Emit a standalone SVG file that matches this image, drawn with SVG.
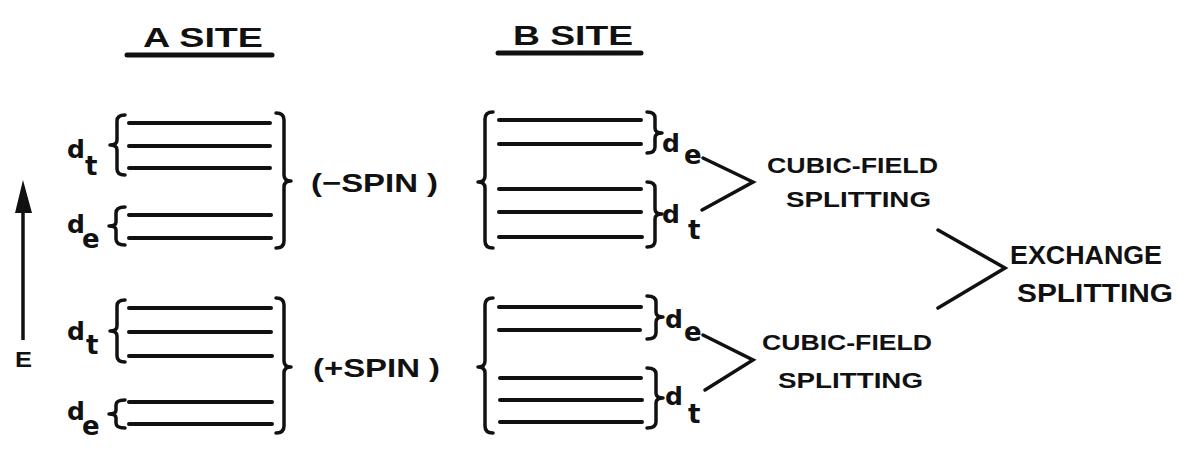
<svg xmlns="http://www.w3.org/2000/svg" width="1188" height="454" viewBox="0 0 1188 454">
  <style>
    .lvl { stroke: #111; stroke-width: 4; stroke-linecap: round; fill: none; }
    .br { stroke: #111; stroke-width: 3.5; stroke-linecap: round; stroke-linejoin: round; fill: none; }
    .ln { stroke: #111; stroke-width: 3.5; stroke-linecap: round; stroke-linejoin: miter; fill: none; }
    .t { font-family: "Liberation Sans", "DejaVu Sans", sans-serif; font-weight: bold; fill: #111; }
    .sym { font-family: "DejaVu Sans", "Liberation Sans", sans-serif; font-weight: bold; fill: #111; font-size: 25px; }
    .sub { font-size: 26px; }
  </style>
  <rect width="1188" height="454" fill="#ffffff"/>

  <!-- column headings -->
  <g id="heading-a">
    <text class="t" x="143" y="47" font-size="28" textLength="120" lengthAdjust="spacingAndGlyphs">A SITE</text>
    <line x1="127" y1="55" x2="272" y2="55" stroke="#111" stroke-width="5" stroke-linecap="round"/>
  </g>
  <g id="heading-b">
    <text class="t" x="513" y="45" font-size="28" textLength="120" lengthAdjust="spacingAndGlyphs">B SITE</text>
    <line x1="498" y1="53" x2="641" y2="53" stroke="#111" stroke-width="5" stroke-linecap="round"/>
  </g>

  <!-- energy axis -->
  <g id="energy-axis">
    <line x1="23" y1="340" x2="23" y2="210" stroke="#111" stroke-width="3.5"/>
    <polygon points="23,180 15,213 32,213" fill="#111"/>
    <text class="t" x="15" y="367" font-size="22" textLength="17" lengthAdjust="spacingAndGlyphs">E</text>
  </g>

  <!-- A site, minus spin -->
  <g id="a-minus">
    <line class="lvl" x1="129" y1="123" x2="270" y2="123"/>
    <line class="lvl" x1="129" y1="146" x2="270" y2="146"/>
    <line class="lvl" x1="129" y1="168" x2="270" y2="168"/>
    <line class="lvl" x1="129" y1="215" x2="271" y2="215"/>
    <line class="lvl" x1="129" y1="238" x2="271" y2="238"/>
    <path class="br" d="M125 115 Q117 115 117 121 L117 140 Q117 145 110 145 Q117 145 117 150 L117 169 Q117 175 125 175"/>
    <path class="br" d="M125 207 Q116 207 116 213 L116 222 Q116 226 109 226 Q116 226 116 230 L116 239 Q116 245 125 245"/>
    <path class="br" d="M276 113 Q284 113 284 120 L284 175 Q284 181 291 181 Q284 181 284 187 L284 241 Q284 248 276 248"/>
    <text class="sym" x="67" y="158">d<tspan class="sub" x="85" y="175">t</tspan></text>
    <text class="sym" x="67" y="233">d<tspan class="sub" x="82" y="248">e</tspan></text>
    <text class="t" x="311" y="192" font-size="26" textLength="127" lengthAdjust="spacingAndGlyphs">(−SPIN )</text>
  </g>

  <!-- A site, plus spin -->
  <g id="a-plus">
    <line class="lvl" x1="129" y1="308" x2="271" y2="308"/>
    <line class="lvl" x1="129" y1="332" x2="271" y2="332"/>
    <line class="lvl" x1="129" y1="356" x2="272" y2="356"/>
    <line class="lvl" x1="129" y1="402" x2="272" y2="402"/>
    <line class="lvl" x1="129" y1="424" x2="272" y2="424"/>
    <path class="br" d="M125 300 Q117 300 117 306 L117 326 Q117 331 110 331 Q117 331 117 336 L117 356 Q117 362 125 362"/>
    <path class="br" d="M125 400 Q116 400 116 405 L116 410 Q116 414 109 414 Q116 414 116 418 L116 423 Q116 428 125 428"/>
    <path class="br" d="M276 298 Q284 298 284 305 L284 361 Q284 367 291 367 Q284 367 284 373 L284 426 Q284 433 276 433"/>
    <text class="sym" x="67" y="340">d<tspan class="sub" x="86" y="354">t</tspan></text>
    <text class="sym" x="67" y="420">d<tspan class="sub" x="82" y="435">e</tspan></text>
    <text class="t" x="313" y="377" font-size="26" textLength="127" lengthAdjust="spacingAndGlyphs">(+SPIN )</text>
  </g>

  <!-- B site, minus spin -->
  <g id="b-minus">
    <line class="lvl" x1="499" y1="120" x2="641" y2="120"/>
    <line class="lvl" x1="499" y1="144" x2="641" y2="144"/>
    <line class="lvl" x1="499" y1="189" x2="641" y2="189"/>
    <line class="lvl" x1="499" y1="212" x2="641" y2="212"/>
    <line class="lvl" x1="499" y1="237" x2="642" y2="237"/>
    <path class="br" d="M493 112 Q485 112 485 119 L485 176 Q485 182 478 182 Q485 182 485 188 L485 241 Q485 248 493 248"/>
    <path class="br" d="M647 112 Q655 112 655 118 L655 128 Q655 133 662 133 Q655 133 655 138 L655 147 Q655 153 647 153"/>
    <path class="br" d="M647 182 Q655 182 655 188 L655 209 Q655 214 662 214 Q655 214 655 219 L655 241 Q655 247 647 247"/>
    <text class="sym" x="662" y="152">d<tspan class="sub" x="684" y="164">e</tspan></text>
    <text class="sym" x="662" y="223">d<tspan class="sub" x="688" y="239">t</tspan></text>
  </g>

  <!-- B site, plus spin -->
  <g id="b-plus">
    <line class="lvl" x1="499" y1="307" x2="641" y2="307"/>
    <line class="lvl" x1="499" y1="330" x2="640" y2="330"/>
    <line class="lvl" x1="500" y1="378" x2="641" y2="378"/>
    <line class="lvl" x1="500" y1="400" x2="642" y2="400"/>
    <line class="lvl" x1="500" y1="422" x2="642" y2="422"/>
    <path class="br" d="M493 298 Q485 298 485 305 L485 361 Q485 367 478 367 Q485 367 485 373 L485 426 Q485 433 493 433"/>
    <path class="br" d="M647 296 Q656 296 656 302 L656 312 Q656 317 663 317 Q656 317 656 322 L656 333 Q656 339 647 339"/>
    <path class="br" d="M647 368 Q656 368 656 374 L656 393 Q656 398 663 398 Q656 398 656 403 L656 422 Q656 428 647 428"/>
    <text class="sym" x="665" y="328">d<tspan class="sub" x="684" y="341">e</tspan></text>
    <text class="sym" x="665" y="405">d<tspan class="sub" x="688" y="423">t</tspan></text>
  </g>

  <!-- splitting labels -->
  <g id="cubic-upper">
    <text class="t" x="767" y="173" font-size="22" textLength="171" lengthAdjust="spacingAndGlyphs">CUBIC-FIELD</text>
    <text class="t" x="786" y="207" font-size="22" textLength="145" lengthAdjust="spacingAndGlyphs">SPLITTING</text>
  </g>
  <g id="cubic-lower">
    <text class="t" x="762" y="350" font-size="22" textLength="170" lengthAdjust="spacingAndGlyphs">CUBIC-FIELD</text>
    <text class="t" x="778" y="388" font-size="22" textLength="145" lengthAdjust="spacingAndGlyphs">SPLITTING</text>
  </g>
  <g id="exchange">
    <text class="t" x="1010" y="264" font-size="26" textLength="152" lengthAdjust="spacingAndGlyphs">EXCHANGE</text>
    <text class="t" x="1017" y="302" font-size="26" textLength="156" lengthAdjust="spacingAndGlyphs">SPLITTING</text>
  </g>

  <!-- connectors -->
  <g id="connectors">
    <polyline class="ln" points="703,158 753,182 702,210"/>
    <polyline class="ln" points="703,335 753,360 705,390"/>
    <polyline class="ln" points="938,230 1005,268 938,308"/>
  </g>
</svg>
